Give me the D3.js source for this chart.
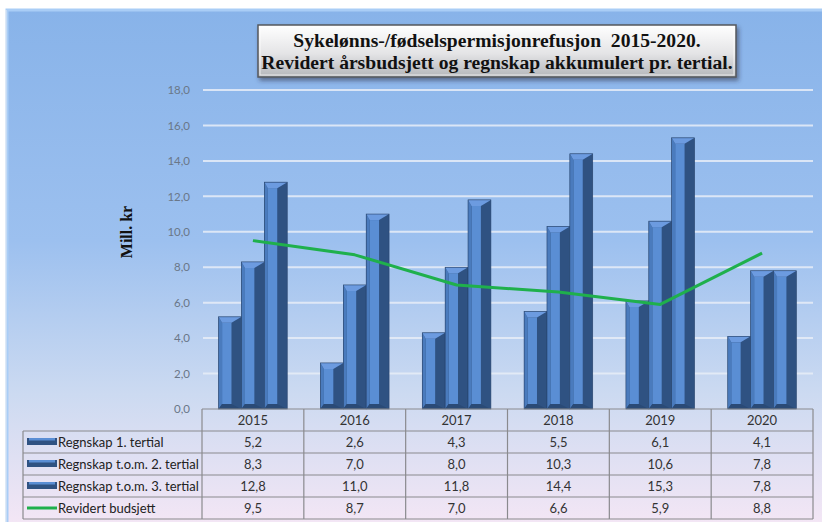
<!DOCTYPE html>
<html><head><meta charset="utf-8">
<script src="https://cdn.jsdelivr.net/npm/d3@7"></script>
<style>html,body{margin:0;padding:0;background:#fff;}svg{display:block;}</style>
</head><body>
<svg id="c" width="822" height="527"></svg>
<script>
const years = ["2015","2016","2017","2018","2019","2020"];
const seriesNames = ["Regnskap 1. tertial","Regnskap t.o.m. 2. tertial","Regnskap t.o.m. 3. tertial"];
const tertial1 = [5.2,2.6,4.3,5.5,6.1,4.1];
const tertial2 = [8.3,7.0,8.0,10.3,10.6,7.8];
const tertial3 = [12.8,11.0,11.8,14.4,15.3,7.8];
const lineName = "Revidert budsjett";
const budsjett = [9.5,8.7,7.0,6.6,5.9,8.8];
const yTicks = [0,2,4,6,8,10,12,14,16,18];
const titleLines = ["Sykelønns-/fødselspermisjonrefusjon  2015-2020.","Revidert årsbudsjett og regnskap akkumulert pr. tertial."];
const yLabel = "Mill. kr";

const barSeries = [tertial1,tertial2,tertial3];
const fmt = v => d3.format(".1f")(v).replace(".", ",");
const serif = "Times New Roman, Liberation Serif, DejaVu Serif, serif";

const svg = d3.select("#c");
const defs = svg.append("defs");
const bg = defs.append("linearGradient").attr("id","bg").attr("x1",0).attr("y1",0).attr("x2",0).attr("y2",1);
bg.append("stop").attr("offset","0%").attr("stop-color","#88b3e9");
bg.append("stop").attr("offset","45%").attr("stop-color","#9cc0ef");
bg.append("stop").attr("offset","75%").attr("stop-color","#ccdaf1");
bg.append("stop").attr("offset","100%").attr("stop-color","#f3e6f5");
const tg = defs.append("linearGradient").attr("id","tg").attr("x1",0).attr("y1",0).attr("x2",0).attr("y2",1);
tg.append("stop").attr("offset","0%").attr("stop-color","#ffffff");
tg.append("stop").attr("offset","55%").attr("stop-color","#e4e4e6");
tg.append("stop").attr("offset","100%").attr("stop-color","#b4b6ba");
const sh = defs.append("filter").attr("id","sh").attr("x","-5%").attr("y","-20%").attr("width","115%").attr("height","160%");
sh.append("feDropShadow").attr("dx",2).attr("dy",3).attr("stdDeviation",2).attr("flood-color","#334").attr("flood-opacity",0.55);

// background panel
svg.append("rect").attr("x",0).attr("y",0).attr("width",822).attr("height",527).attr("fill","#ffffff");
svg.append("rect").attr("x",7).attr("y",10).attr("width",815).attr("height",512).attr("fill","url(#bg)");
svg.append("path").attr("d","M7,522 L7,10 L822,10").attr("fill","none").attr("stroke","#a9cdf6").attr("stroke-width",3);
svg.append("line").attr("x1",6).attr("x2",6).attr("y1",10).attr("y2",522).attr("stroke","#e6ecf4").attr("stroke-width",1);

const left = 202, right = 813;
const x = d3.scaleBand().domain(years).range([left,right]).padding(0);
const y = d3.scaleLinear().domain([0,18]).range([409,90]);
const bw = x.bandwidth();
const xs = d3.scaleBand().domain(d3.range(3)).range([bw*0.163, bw*0.837]).padding(0);

// gridlines
svg.append("g").selectAll("line").data(yTicks.filter(d=>d>0)).join("line")
  .attr("x1",left+1).attr("x2",right).attr("y1",d=>y(d)).attr("y2",d=>y(d))
  .attr("stroke","#e8eef8").attr("stroke-width",2).attr("opacity",0.85);

// y axis labels via axis
const yAxis = svg.append("g").attr("transform",`translate(${left-12},0)`)
  .call(d3.axisLeft(y).tickValues(yTicks).tickFormat(fmt).tickSize(0).tickPadding(0));
yAxis.select(".domain").remove();
yAxis.selectAll("text").attr("font-family","Lato, 'Open Sans', sans-serif").attr("font-size",11.5).attr("fill","#6a7788");

svg.append("text").attr("transform","translate(132,232) rotate(-90)").attr("text-anchor","middle")
  .attr("font-family",serif).attr("font-weight","bold").attr("font-size",16)
  .attr("fill","#111").text(yLabel);

// bars
const bars = [];
years.forEach((yr,i)=>{ barSeries.forEach((s,j)=>{ bars.push({yr, j, v:s[i]}); }); });
const gB = svg.append("g");
bars.forEach(d=>{
  const x0 = x(d.yr)+xs(d.j), x1 = x0+xs.bandwidth();
  const y0 = y(d.v), yb = y(0);
  const w = x1-x0, bl = 3.5, br = Math.round(w*0.42), bt = 6, bb = 5;
  const g = gB.append("g");
  g.append("rect").attr("x",x0).attr("y",y0).attr("width",w).attr("height",yb-y0).attr("fill","#2f5282");
  g.append("rect").attr("x",x0+bl).attr("y",y0+bt).attr("width",w-bl-br).attr("height",Math.max(0,yb-y0-bt-bb)).attr("fill","#5a8ed4");
  g.append("polygon").attr("points",`${x0},${y0} ${x0+bl},${y0+bt} ${x0+bl},${yb-bb} ${x0},${yb}`).attr("fill","#4a7bbd");
  g.append("polygon").attr("points",`${x0},${y0} ${x1},${y0} ${x1-br},${y0+bt} ${x0+bl},${y0+bt}`).attr("fill","#6c9be0");
  g.append("polygon").attr("points",`${x0},${yb} ${x1},${yb} ${x1-br},${yb-bb} ${x0+bl},${yb-bb}`).attr("fill","#2a4a76");
  g.append("rect").attr("x",x0).attr("y",y0).attr("width",w).attr("height",yb-y0).attr("fill","none").attr("stroke","#27436b").attr("stroke-width",0.6);
});

// line
const line = d3.line().x((d,i)=>x(years[i])+bw/2).y(d=>y(d));
svg.append("path").datum(budsjett).attr("d",line).attr("fill","none").attr("stroke","#1fb04c").attr("stroke-width",3).attr("stroke-linejoin","round");

// table
const rowsY = [409,431,453,475,497,519];
const tLeft = 23;
const tf = "Lato, 'Open Sans', sans-serif";
const gT = svg.append("g");
const rowLabels = seriesNames.concat([lineName]);
const rowVals = barSeries.concat([budsjett]);
gT.append("line").attr("x1",left).attr("x2",right).attr("y1",rowsY[0]).attr("y2",rowsY[0]);
rowsY.slice(1).forEach(yy=>gT.append("line").attr("x1",tLeft).attr("x2",right).attr("y1",yy).attr("y2",yy));
gT.append("line").attr("x1",tLeft).attr("x2",tLeft).attr("y1",rowsY[1]).attr("y2",rowsY[5]);
years.forEach(yr=>gT.append("line").attr("x1",x(yr)).attr("x2",x(yr)).attr("y1",rowsY[0]).attr("y2",rowsY[5]));
gT.append("line").attr("x1",right).attr("x2",right).attr("y1",rowsY[0]).attr("y2",rowsY[5]);
gT.selectAll("line").attr("stroke","#8a8a8e").attr("stroke-width",1.2);

gT.selectAll("text.h").data(years).join("text").attr("class","h")
  .attr("x",d=>x(d)+bw/2).attr("y",(rowsY[0]+rowsY[1])/2+4.5).attr("text-anchor","middle")
  .attr("font-family",tf).attr("font-size",13).attr("fill","#333").text(d=>d);
rowLabels.forEach((lab,r)=>{
  const cy = (rowsY[r+1]+rowsY[r+2])/2;
  if (r<3){
    gT.append("rect").attr("x",27).attr("y",cy-4).attr("width",30).attr("height",7).attr("fill","#2f5282");
    gT.append("rect").attr("x",29).attr("y",cy-4).attr("width",26).attr("height",2.5).attr("fill","#5a8ed4");
  } else {
    gT.append("line").attr("x1",27).attr("x2",57).attr("y1",cy).attr("y2",cy).attr("stroke","#1fb04c").attr("stroke-width",3);
  }
  gT.append("text").attr("x",58).attr("y",cy+4.5).attr("font-family",tf).attr("font-size",13).attr("fill","#222").text(lab);
  years.forEach((yr,i)=>{
    gT.append("text").attr("x",x(yr)+bw/2).attr("y",cy+4.5).attr("text-anchor","middle")
      .attr("font-family",tf).attr("font-size",13).attr("fill","#333").text(fmt(rowVals[r][i]));
  });
});

// title box
svg.append("rect").attr("x",258).attr("y",25).attr("width",478).attr("height",52).attr("fill","url(#tg)")
  .attr("stroke","#55585e").attr("stroke-width",1.5).attr("filter","url(#sh)");
svg.append("rect").attr("x",260).attr("y",27).attr("width",474).attr("height",48).attr("fill","none")
  .attr("stroke","#ffffff").attr("stroke-width",1).attr("opacity",0.7);
titleLines.forEach((t,i)=>{
  svg.append("text").attr("x",497).attr("y",47+i*22).attr("text-anchor","middle")
    .attr("font-family",serif).attr("font-weight","bold").attr("font-size",19.6)
    .attr("fill","#111").style("white-space","pre").text(t);
});
</script>
</body></html>
